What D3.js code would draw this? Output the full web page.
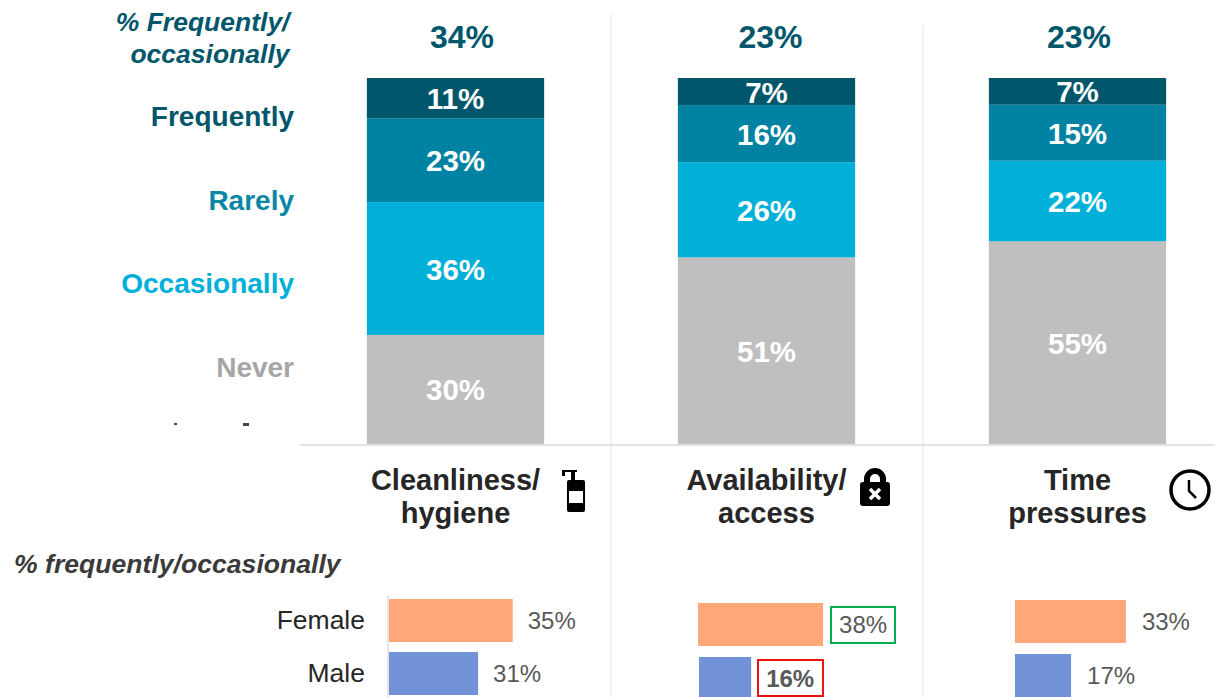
<!DOCTYPE html>
<html>
<head>
<meta charset="utf-8">
<script src="https://cdn.jsdelivr.net/npm/d3@7"></script>
<style>
  html, body { margin: 0; padding: 0; background: #fff; }
  svg { display: block; }
  text { font-family: "Liberation Sans", Arial, sans-serif; }
</style>
</head>
<body>
<svg width="1215" height="697"></svg>
<script>
const categories = ["Cleanliness/ hygiene", "Availability/ access", "Time pressures"];
const categoryLines = [["Cleanliness/", "hygiene"], ["Availability/", "access"], ["Time", "pressures"]];
const seriesNames = ["Frequently", "Rarely", "Occasionally", "Never"];
const seriesColors = ["#00566b", "#0082a3", "#00b0d9", "#bfbfbf"];
const legendColors = ["#00566b", "#0a87a5", "#00b0d9", "#a6a6a6"];
const frequently = [11, 7.4, 7.3];
const rarely = [22.9, 15.6, 15.3];
const occasionally = [36.3, 26, 22];
const never = [29.8, 51, 55.4];
const totals = ["34%", "23%", "23%"];
const genders = ["Female", "Male"];
// bar lengths as drawn in the picture, they do not follow the printed labels exactly
const femaleBars = [37.5, 37.9, 33.6];
const maleBars = [27, 15.8, 17];
const femaleLabels = ["35%", "38%", "33%"];
const maleLabels = ["31%", "16%", "17%"];

const svg = d3.select("svg");

const x = d3.scaleBand()
  .domain(categories)
  .range([300, 1233])
  .paddingInner(0.43)
  .paddingOuter(0.215);

const y = d3.scaleLinear().domain([0, 100]).range([444, 78]);
const len = d3.scaleLinear().domain([0, 100]).range([0, 330]);

const rows = categories.map((c, i) => ({
  category: c,
  Frequently: frequently[i],
  Rarely: rarely[i],
  Occasionally: occasionally[i],
  Never: never[i]
}));

const stack = d3.stack().keys(seriesNames.slice().reverse());
const colorOf = d3.scaleOrdinal().domain(seriesNames).range(seriesColors);

// column separators and baseline
svg.selectAll(".sep")
  .data([[611, 14], [923, 25]])
  .join("line")
    .attr("x1", d => d[0])
    .attr("x2", d => d[0])
    .attr("y1", d => d[1])
    .attr("y2", 697)
    .attr("stroke", "#ececec")
    .attr("stroke-width", 1.5);

const layers = svg.selectAll(".layer")
  .data(stack(rows))
  .join("g")
    .attr("fill", d => colorOf(d.key));

layers.selectAll("rect")
  .data(d => d)
  .join("rect")
    .attr("x", d => x(d.data.category))
    .attr("width", x.bandwidth())
    .attr("y", d => y(d[1]))
    .attr("height", d => y(d[0]) - y(d[1]));

layers.selectAll("text")
  .data(d => d)
  .join("text")
    .attr("x", d => x(d.data.category) + x.bandwidth() / 2)
    .attr("y", d => (y(d[0]) + y(d[1])) / 2 + 11)
    .attr("text-anchor", "middle")
    .attr("fill", "#fff")
    .attr("font-size", 29.5)
    .attr("font-weight", "bold")
    .text(d => Math.round(d[1] - d[0]) + "%");

svg.append("line")
  .attr("x1", 300)
  .attr("x2", 1215)
  .attr("y1", 445)
  .attr("y2", 445)
  .attr("stroke", "#e2e2e2")
  .attr("stroke-width", 2);

// totals above the bars
const totalX = [462, 770.5, 1079];
svg.selectAll(".total")
  .data(totals)
  .join("text")
    .attr("x", (d, i) => totalX[i])
    .attr("y", 48)
    .attr("text-anchor", "middle")
    .attr("fill", "#00566b")
    .attr("font-size", 32)
    .attr("font-weight", "bold")
    .text(d => d);

svg.selectAll(".head")
  .data(["% Frequently/", "occasionally"])
  .join("text")
    .attr("x", 289.5)
    .attr("y", (d, i) => 31 + i * 32)
    .attr("text-anchor", "end")
    .attr("fill", "#00566b")
    .attr("font-size", 26.5)
    .attr("font-weight", "bold")
    .attr("font-style", "italic")
    .text(d => d);

// legend on the left
svg.selectAll(".legend")
  .data(seriesNames)
  .join("text")
    .attr("x", 294)
    .attr("y", (d, i) => 126 + i * 83.7)
    .attr("text-anchor", "end")
    .attr("fill", (d, i) => legendColors[i])
    .attr("font-size", 28)
    .attr("font-weight", "bold")
    .text(d => d);

// what is left of a clipped label under the legend
svg.selectAll(".clipped")
  .data([[174, 423, 3, 2], [243, 423, 6, 3]])
  .join("rect")
    .attr("x", d => d[0])
    .attr("y", d => d[1])
    .attr("width", d => d[2])
    .attr("height", d => d[3])
    .attr("fill", "#444");

// category names
const catGroups = svg.selectAll(".cat")
  .data(categoryLines)
  .join("g");

catGroups.selectAll("text")
  .data(d => d)
  .join("text")
    .attr("x", function () {
      const lines = d3.select(this.parentNode).datum();
      return x(categories[categoryLines.indexOf(lines)]) + x.bandwidth() / 2;
    })
    .attr("y", (d, i) => 490 + i * 33)
    .attr("text-anchor", "middle")
    .attr("fill", "#262626")
    .attr("font-size", 29)
    .attr("font-weight", "bold")
    .text(d => d);

svg.append("text")
  .attr("x", 14)
  .attr("y", 573)
  .attr("fill", "#3a3a3a")
  .attr("font-size", 26.6)
  .attr("font-weight", "bold")
  .attr("font-style", "italic")
  .text("% frequently/occasionally");

// icons
const soap = svg.append("g").attr("transform", "translate(561, 469)");
soap.append("rect").attr("x", 1).attr("y", 1).attr("width", 15).attr("height", 2);
soap.append("rect").attr("x", 1).attr("y", 3).attr("width", 3).attr("height", 4);
soap.append("rect").attr("x", 10).attr("y", 3).attr("width", 4).attr("height", 8);
soap.append("rect").attr("x", 6).attr("y", 11).attr("width", 18).attr("height", 32).attr("rx", 2);
soap.append("rect").attr("x", 8).attr("y", 22).attr("width", 14).attr("height", 12).attr("fill", "#fff");

const lock = svg.append("g").attr("transform", "translate(860, 469)");
lock.append("path")
  .attr("d", "M7 14V10a8 8 0 0 1 16 0v4")
  .attr("fill", "none")
  .attr("stroke", "#000")
  .attr("stroke-width", 6);
lock.append("rect").attr("x", 0).attr("y", 13).attr("width", 30).attr("height", 24).attr("rx", 3);
lock.append("path")
  .attr("d", "M10 20l10 10M20 20l-10 10")
  .attr("stroke", "#fff")
  .attr("stroke-width", 3.5);

const clock = svg.append("g").attr("transform", "translate(1190, 490)");
clock.append("circle").attr("r", 19).attr("fill", "none").attr("stroke", "#000").attr("stroke-width", 3.5);
clock.append("path")
  .attr("d", "M-1 -10V1L6 8")
  .attr("fill", "none")
  .attr("stroke", "#000")
  .attr("stroke-width", 2.5);

// gender bars below
const barStart = [389, 698, 1015];
const femaleY = [599, 603, 600];
const maleY = [652, 657, 654];
const barH = 43;

svg.append("line")
  .attr("x1", 388)
  .attr("x2", 388)
  .attr("y1", 595)
  .attr("y2", 697)
  .attr("stroke", "#dcdcdc")
  .attr("stroke-width", 1.5);

svg.selectAll(".female")
  .data(femaleBars)
  .join("rect")
    .attr("x", (d, i) => barStart[i])
    .attr("y", (d, i) => femaleY[i])
    .attr("width", d => len(d))
    .attr("height", barH)
    .attr("fill", "#ffa778");

svg.selectAll(".male")
  .data(maleBars)
  .join("rect")
    .attr("x", (d, i) => barStart[i] + (i === 1 ? 1 : 0))
    .attr("y", (d, i) => maleY[i])
    .attr("width", d => len(d))
    .attr("height", barH)
    .attr("fill", "#7292d8");

svg.selectAll(".gender")
  .data(genders)
  .join("text")
    .attr("x", 365)
    .attr("y", (d, i) => 629 + i * 53)
    .attr("text-anchor", "end")
    .attr("fill", "#262626")
    .attr("font-size", 26.5)
    .text(d => d);

const labelGap = [15, 16, 16];
svg.selectAll(".flabel")
  .data(femaleLabels)
  .join("text")
    .attr("x", (d, i) => barStart[i] + len(femaleBars[i]) + labelGap[i])
    .attr("y", (d, i) => femaleY[i] + 30)
    .attr("fill", "#595959")
    .attr("font-size", 24)
    .text(d => d);

svg.selectAll(".mlabel")
  .data(maleLabels)
  .join("text")
    .attr("x", (d, i) => barStart[i] + len(maleBars[i]) + labelGap[i])
    .attr("y", (d, i) => maleY[i] + 30)
    .attr("fill", "#595959")
    .attr("font-size", 24)
    .attr("font-weight", (d, i) => i === 1 ? "bold" : "normal")
    .text(d => d);

// callout boxes around the availability labels
svg.append("rect")
  .attr("x", 831).attr("y", 607).attr("width", 64).attr("height", 36)
  .attr("fill", "none").attr("stroke", "#00b050").attr("stroke-width", 2);
svg.append("rect")
  .attr("x", 758).attr("y", 660).attr("width", 65).attr("height", 36)
  .attr("fill", "none").attr("stroke", "#ee1111").attr("stroke-width", 2);
</script>
</body>
</html>
